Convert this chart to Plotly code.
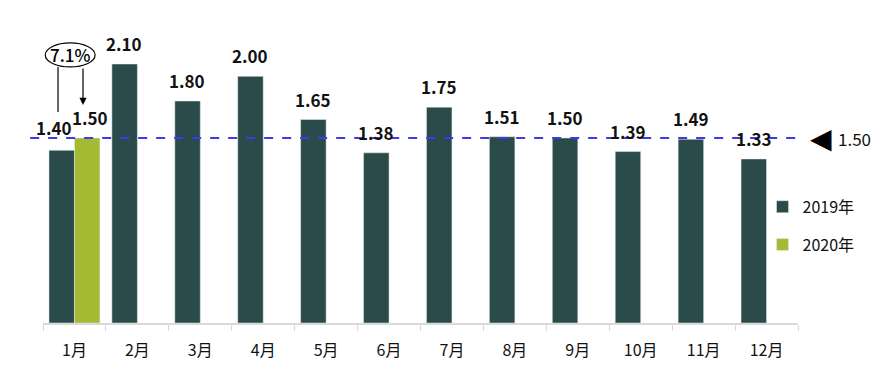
import plotly.graph_objects as go

months = ["1月", "2月", "3月", "4月", "5月", "6月", "7月", "8月", "9月", "10月", "11月", "12月"]
v2019 = [1.40, 2.10, 1.80, 2.00, 1.65, 1.38, 1.75, 1.51, 1.50, 1.39, 1.49, 1.33]
v2020 = [1.50, None, None, None, None, None, None, None, None, None, None, None]
ref_value = 1.50
growth_label = "7.1%"

C19 = "#2b4a4a"
C20 = "#a4ba33"
FONT = "Noto Sans CJK SC"
LBL = dict(size=17, color="#111", family=FONT, weight="bold")

fig = go.Figure()
fig.add_trace(go.Bar(x=months, y=v2019, name="2019年", marker_color=C19, legendgroup="a"))
fig.add_trace(go.Bar(x=months, y=v2020, name="2020年", marker_color=C20, legendgroup="b"))

# value labels (bars sit left/right of category centre)
for i, (m, v) in enumerate(zip(months, v2019)):
    xs = -20 if i == 0 else -13
    ys = 8 if i == 0 else 6
    fig.add_annotation(x=m, y=v, text=f"{v:.2f}", showarrow=False, xanchor="center",
                       yanchor="bottom", xshift=xs, yshift=ys, font=LBL)
for m, v in zip(months, v2020):
    if v is not None:
        fig.add_annotation(x=m, y=v, text=f"{v:.2f}", showarrow=False, xanchor="center",
                           yanchor="bottom", xshift=16, yshift=6, font=LBL)

# reference dashed line
fig.add_shape(type="line", xref="paper", yref="y", x0=-0.017, x1=1.003,
              y0=ref_value, y1=ref_value, line=dict(color="#3a3af0", width=2, dash="dash"))
fig.add_annotation(xref="paper", yref="y", x=1.0305, y=ref_value, text="◀", showarrow=False,
                   xanchor="center", font=dict(size=28, color="black", family="DejaVu Sans"))
fig.add_annotation(xref="paper", yref="y", x=1.05, y=ref_value, text=f"{ref_value:.2f}",
                   showarrow=False, xanchor="left", font=dict(size=17, color="#111", family=FONT))

# growth ellipse
fig.add_shape(type="circle", xref="paper", yref="y", x0=0.003, x1=0.069, y0=2.076, y1=2.271,
              line=dict(color="black", width=1.2), fillcolor="white")
fig.add_annotation(xref="paper", yref="y", x=0.036, y=2.174, text=growth_label, showarrow=False,
                   xanchor="center", yanchor="middle",
                   font=dict(size=17, color="black", family=FONT, weight=500))
fig.add_shape(type="line", xref="paper", yref="y", x0=0.0199, x1=0.0199, y0=2.076, y1=1.71,
              line=dict(color="black", width=1.2))
fig.add_annotation(xref="paper", yref="y", x=0.0530, y=1.768, ax=0, ay=-38,
                   showarrow=True, arrowhead=2, arrowsize=1.2,
                   arrowwidth=1.2, arrowcolor="black", text="")

fig.update_layout(
    width=885, height=377,
    margin=dict(l=43, r=87, t=27, b=54),
    barmode="group", bargap=0.19, bargroupgap=0,
    plot_bgcolor="white", paper_bgcolor="white",
    font=dict(family=FONT, size=15, color="#111"),
    showlegend=True,
    legend=dict(x=0.953, y=0.45, xanchor="left", yanchor="top", tracegroupgap=14,
                font=dict(size=16, family=FONT), itemwidth=30, bgcolor="rgba(0,0,0,0)"),
    xaxis=dict(range=[-0.5, 11.5], autorange=False, showline=True, linecolor="#d9d9d9",
               linewidth=1.5, ticks="outside",
               tickson="boundaries", ticklen=6, tickcolor="#d9d9d9",
               ticklabelstandoff=12, tickfont=dict(size=16, family=FONT)),
    yaxis=dict(range=[0, 2.40], visible=False),
)

fig.write_html("out.html")
